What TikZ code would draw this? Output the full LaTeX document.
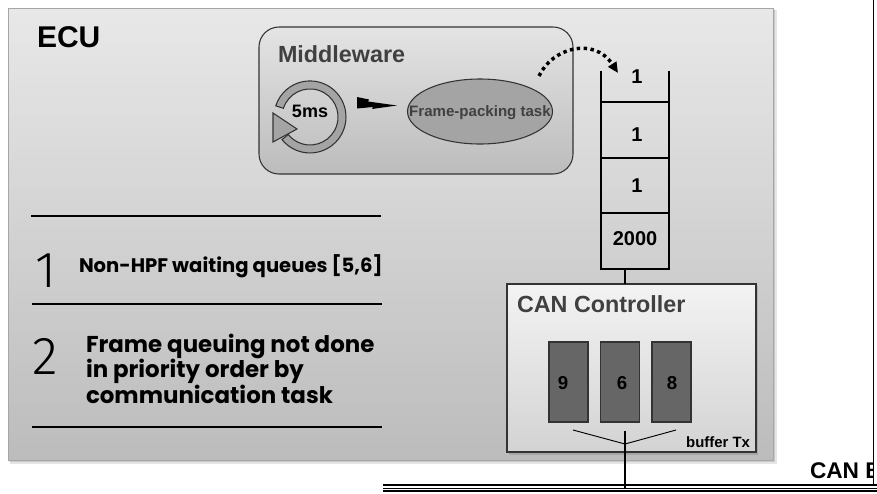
\documentclass[tikz,border=0pt]{standalone}
\usepackage{fontspec}
\setmainfont{Liberation Sans}
\newfontfamily\gothic{Poppins}
\newfontfamily\thinfont{Fira Sans Light}
\usetikzlibrary{arrows.meta,shapes.geometric}
\definecolor{ecuTop}{HTML}{E8E8E8}
\definecolor{ecuBot}{HTML}{BCBCBC}
\definecolor{mwTop}{HTML}{E4E4E4}
\definecolor{mwBot}{HTML}{BCBCBC}
\definecolor{darkline}{HTML}{333333}
\definecolor{midgray}{HTML}{A4A4A4}
\definecolor{txtgray}{HTML}{404040}
\definecolor{bufgray}{HTML}{666666}
\definecolor{ctrlTop}{HTML}{F3F3F3}
\definecolor{ctrlBot}{HTML}{D3D3D3}
\tikzset{
  lbl/.style={inner sep=0pt, outer sep=0pt},
  qline/.style={line width=2.2pt, line cap=rect},
  bufbox/.style={draw=darkline, fill=bufgray, line width=0.8pt, minimum width=29.25pt, minimum height=60pt, inner sep=0pt},
  sepline/.style={line width=1.6pt},
  busline/.style={line width=1.1pt},
}
\begin{document}
\begin{tikzpicture}[x=0.75pt,y=-0.75pt]
\useasboundingbox (0,0) rectangle (877,493);
% ECU box with shadow
\fill[black, opacity=0.10] (10,10) rectangle (777,464);
\fill[black, opacity=0.12] (9,9) rectangle (775,462);
\shade[top color=ecuTop, bottom color=ecuBot, draw=black!35, line width=0.5pt] (8,8) rectangle (773,460);
\node[lbl, anchor=base west, font=\bfseries\fontsize{22.5}{26}\selectfont] (ecu) at (37,47) {ECU};
% Middleware box
\shade[top color=mwTop, bottom color=mwBot, draw=darkline, line width=0.8pt, rounded corners=15pt] (259,27) rectangle (573,174);
\node[lbl, anchor=base west, text=txtgray, font=\bfseries\fontsize{17.5}{20}\selectfont] (mw) at (278,62) {Middleware};
% period ring
\filldraw[fill=midgray, draw=darkline, line width=0.8pt]
  (282.0,139.6) arc[start angle=141, end angle=-162, radius=36]
  -- (283.4,108.3) arc[start angle=-162, end angle=141, radius=28] -- cycle;
\filldraw[fill=midgray, draw=darkline, line width=0.8pt] (273,113) -- (297,129) -- (273,142) -- cycle;
\node[lbl, anchor=base, font=\bfseries\fontsize{13.5}{16}\selectfont] (period) at (310,117) {5ms};
% lightning
\coordinate (lz) at (357,97);
\fill[black] (lz) -- (369,99.5) -- (368,101.5) -- (397,105.5) -- (372,109) -- (373,107) -- (357,108.5) -- cycle;
% ellipse
\node[ellipse, draw=darkline, fill=midgray, line width=0.8pt, minimum width=108.75pt, minimum height=48.75pt, inner sep=0pt] (fp) at (480,111.5) {};
\node[lbl, anchor=base, text=txtgray, font=\bfseries\fontsize{11.3}{13}\selectfont] (fptext) at (480,116) {Frame-packing task};
% dotted arrow
\coordinate (dstart) at (539,76);
\coordinate (qtop) at (618,73);
\draw[line width=2.6pt, dash pattern=on 2.6pt off 2.6pt, -{Triangle[length=8pt,width=7pt]}] (dstart) .. controls (552,48) and (594,36) .. (qtop);
% queue
\draw[qline] (601,72) -- (601,269) -- (669,269) -- (669,72);
\draw[qline] (601,102) -- (669,102);
\draw[qline] (601,158) -- (669,158);
\draw[qline] (601,213) -- (669,213);
\node[lbl, anchor=base, font=\bfseries\fontsize{15}{16}\selectfont] (q1) at (637,83) {1};
\node[lbl, anchor=base, font=\bfseries\fontsize{15}{16}\selectfont] (q2) at (637,141) {1};
\node[lbl, anchor=base, font=\bfseries\fontsize{15}{16}\selectfont] (q3) at (637,192) {1};
\node[lbl, anchor=base, font=\bfseries\fontsize{15}{16}\selectfont] (q4) at (635,245) {2000};
\coordinate (qbot) at (625,269);
% CAN controller
\fill[black, opacity=0.12] (509,286) rectangle (758,455);
\shade[top color=ctrlTop, bottom color=ctrlBot, draw=darkline, line width=0.8pt] (507,284) rectangle (756,452);
\coordinate (ctrltop) at (625,284);
\draw[line width=1.8pt] (qbot) -- (ctrltop);
\node[lbl, anchor=base west, text=txtgray, font=\bfseries\fontsize{17.5}{20}\selectfont] (ctrl) at (517,312) {CAN Controller};
\node[bufbox] (b1) at (568.5,382) {};
\node[bufbox] (b2) at (620,382) {};
\node[bufbox] (b3) at (671.5,382) {};
\node[lbl, anchor=base, font=\bfseries\fontsize{14}{16}\selectfont] (n9) at (563,389) {9};
\node[lbl, anchor=base, font=\bfseries\fontsize{14}{16}\selectfont] (n6) at (622,389) {6};
\node[lbl, anchor=base, font=\bfseries\fontsize{14}{16}\selectfont] (n8) at (672,389) {8};
\coordinate (fl) at (573,430);
\coordinate (fm) at (625,444);
\coordinate (fr) at (676,430);
\draw[line width=0.7pt] (fl) -- (fm) -- (fr);
\node[lbl, anchor=base east, font=\bfseries\fontsize{11.2}{13}\selectfont] (btx) at (750,447) {buffer Tx};
% bus
\coordinate (bustap) at (625,431);
\coordinate (busjoin) at (625,488);
\draw[line width=1.9pt] (bustap) -- (busjoin);
\draw[busline] (383,485.2) -- (877,485.2);
\draw[busline] (383,488.3) -- (877,488.3);
\draw[busline] (383,491.2) -- (877,491.2);
\draw[line width=0.8pt] (873.5,0) -- (873.5,486);
\begin{scope}
\clip (800,455) rectangle (873,483);
\node[lbl, anchor=base west, font=\bfseries\fontsize{17}{20}\selectfont] (canbus) at (810,478) {CAN B};
\end{scope}
% left text block
\draw[sepline] (31,216) -- (381,216);
\draw[line width=0.8pt] (32,304) -- (382,304);
\draw[line width=2pt] (32,427) -- (382,427);
\node[lbl, anchor=base west, font=\thinfont\fontsize{38}{40}\selectfont] (one) at (36,287) {1};
\node[lbl, anchor=base west, font=\gothic\bfseries\fontsize{14.7}{19}\selectfont] (t1) at (79,272) {Non-HPF waiting queues [5,6]};
\node[lbl, anchor=base west, font=\thinfont\fontsize{40}{42}\selectfont] (two) at (32,374) {2};
\node[lbl, anchor=base west, align=left, font=\gothic\bfseries\fontsize{17.2}{19}\selectfont] (t2) at (86,403) {Frame queuing not done\\in priority order by\\communication task};
\end{tikzpicture}
\end{document}
